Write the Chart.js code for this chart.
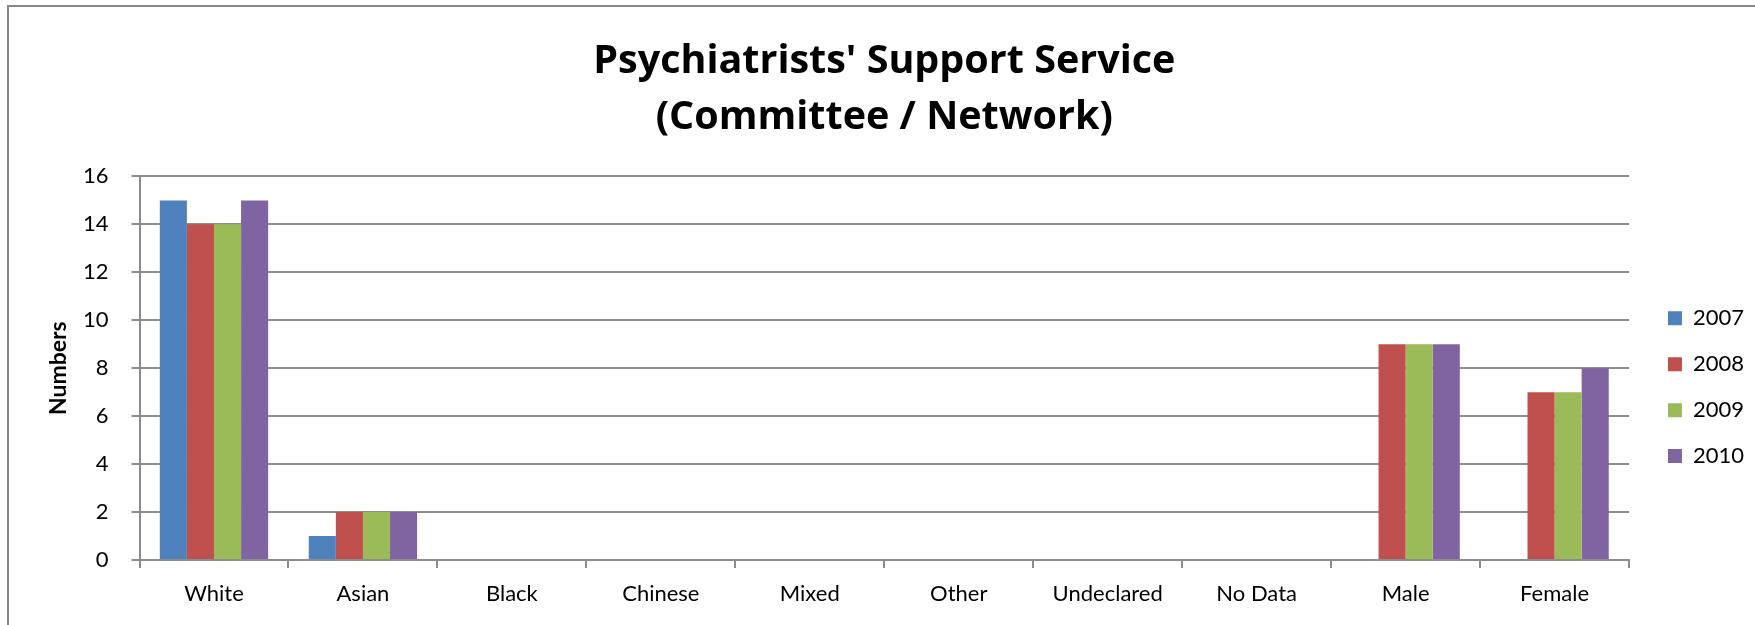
<!DOCTYPE html>
<html>
<head>
<meta charset="utf-8">
<script src="https://cdn.jsdelivr.net/npm/chart.js@4"></script>
<style>
  html, body { margin: 0; padding: 0; background: #ffffff; overflow: hidden; }
  #frame { position: absolute; left: 7px; top: 5px; width: 2000px; height: 2000px;
           border-left: 2px solid #888888; border-top: 2px solid #888888; }
  #c { position: absolute; left: 0; top: 0; }
</style>
</head>
<body>
<div id="frame"></div>
<canvas id="c" width="1755" height="625"></canvas>
<script>
const titleLines = ["Psychiatrists' Support Service", "(Committee / Network)"];
const yAxisTitle = "Numbers";
const categories = ["White", "Asian", "Black", "Chinese", "Mixed", "Other", "Undeclared", "No Data", "Male", "Female"];
const seriesNames = ["2007", "2008", "2009", "2010"];
const values2007 = [15, 1, 0, 0, 0, 0, 0, 0, 0, 0];
const values2008 = [14, 2, 0, 0, 0, 0, 0, 0, 9, 7];
const values2009 = [14, 2, 0, 0, 0, 0, 0, 0, 9, 7];
const values2010 = [15, 2, 0, 0, 0, 0, 0, 0, 9, 8];
const seriesColors = ["#4F81BD", "#C0504D", "#9BBB59", "#8064A2"];
const yMin = 0, yMax = 16, yStep = 2;

const FONT = "Lato, 'Open Sans', 'DejaVu Sans', sans-serif";
const TITLE_FONT = "'Open Sans', Lato, 'DejaVu Sans', sans-serif";
const GRID = "#8c8c8c";

const legendNudge = {
  id: 'legendNudge',
  afterLayout(chart) {
    const l = chart.legend;
    if (!l) return;
    const dx = 15, dy = 19;
    l.left += dx; l.right += dx; l.top += dy; l.bottom += dy;
  }
};

const allSeries = [values2007, values2008, values2009, values2010];

new Chart(document.getElementById('c'), {
  type: 'bar',
  data: {
    labels: categories,
    datasets: allSeries.map((vals, i) => ({
      label: seriesNames[i],
      data: vals,
      backgroundColor: seriesColors[i],
      borderWidth: 0,
      categoryPercentage: 4 / 5.5,
      barPercentage: 1.0
    }))
  },
  options: {
    responsive: false,
    animation: false,
    layout: { padding: { left: 0, right: 16, top: 0, bottom: 0 } },
    plugins: {
      title: {
        display: true,
        fullSize: false,
        text: titleLines,
        color: '#000000',
        font: { family: TITLE_FONT, size: 39.5, weight: 'bold', lineHeight: '56.7px' },
        padding: { top: 33, bottom: 30 }
      },
      legend: {
        display: true,
        position: 'right',
        fullSize: false,
        align: 'center',
        labels: {
          color: '#000000',
          font: { family: FONT, size: 22 },
          boxWidth: 14,
          boxHeight: 14,
          padding: 23.9
        }
      },
      tooltip: { enabled: false }
    },
    scales: {
      x: {
        grid: { display: true, drawOnChartArea: false, drawTicks: true, tickLength: 8, color: GRID, lineWidth: 2, offset: true },
        border: { display: true, color: GRID, width: 2 },
        ticks: { color: '#000000', font: { family: FONT, size: 22 }, padding: 13, autoSkip: false, maxRotation: 0 },
        afterFit(scale) { scale.height = 65; }
      },
      y: {
        min: yMin, max: yMax,
        grid: { display: true, drawTicks: true, tickLength: 8, color: GRID, lineWidth: 2 },
        border: { display: true, color: GRID, width: 2 },
        ticks: { stepSize: yStep, color: '#000000', font: { family: FONT, size: 22 }, padding: 23 },
        title: {
          display: true,
          text: yAxisTitle,
          color: '#000000',
          font: { family: FONT, size: 23, weight: 'bold' },
          padding: { top: 45, bottom: 0 }
        },
        afterFit(scale) { scale.width = 139.5; }
      }
    }
  },
  plugins: [legendNudge]
});
</script>
</body>
</html>
